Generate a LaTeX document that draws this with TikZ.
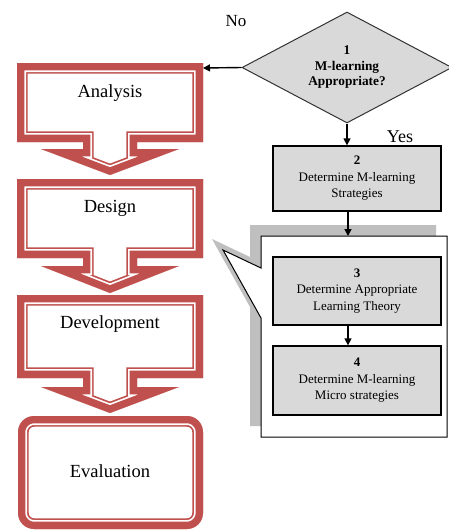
\documentclass[tikz,border=0pt]{standalone}
\usepackage{fontspec}
\setmainfont{Liberation Serif}
\usetikzlibrary{shapes.geometric,arrows.meta}
\definecolor{rd}{HTML}{C0504D}
\definecolor{gboxc}{HTML}{D9D9D9}
\definecolor{shd}{HTML}{BFBFBF}
\tikzset{
  phasepath/.style n args={4}{insert path={(17,#1) -- (203,#1) -- (203,#2) -- (137,#2) -- (137,#3) -- (179,#3) -- (110,#4) -- (41,#3) -- (83,#3) -- (83,#2) -- (17,#2) -- cycle}},
  evalpath/.style={insert path={[rounded corners=16pt] (18,416) rectangle (203,529)}},
  lbl/.style={font=\fontsize{18.5}{22}\selectfont, inner sep=0pt},
  gbox/.style={draw=black, line width=1.3pt, fill=gboxc, minimum width=168pt, inner sep=0pt, align=center, font=\fontsize{13}{16.5}\selectfont},
  arr/.style={line width=1.4pt, -{Triangle[length=7pt,width=7pt]}},
  band1/.style={draw=rd, line width=21.4pt, line join=miter},
  band2/.style={draw=white, line width=18pt, line join=miter},
  band3/.style={draw=rd, line width=14.6pt, line join=miter},
}
\newcommand\phase[4]{%
  \begin{scope}
    \clip[phasepath={#1}{#2}{#3}{#4}];
    \fill[white, phasepath={#1}{#2}{#3}{#4}];
    \path[band1, phasepath={#1}{#2}{#3}{#4}];
    \path[band2, phasepath={#1}{#2}{#3}{#4}];
    \path[band3, phasepath={#1}{#2}{#3}{#4}];
  \end{scope}}
\begin{document}
\begin{tikzpicture}[x=1pt,y=-1pt]
\useasboundingbox (0,0) rectangle (448,531);
\fill[white] (0,0) rectangle (448,531);

% left phases
\phase{63}{142}{149}{175}
\phase{179}{258}{266}{293}
\phase{295}{378}{387}{413}
\begin{scope}
  \clip[evalpath];
  \fill[white, evalpath];
  \path[band1, evalpath];
  \path[band2, evalpath];
  \path[band3, evalpath];
\end{scope}
\node[lbl] (an) at (110,93) {Analysis};
\node[lbl] (de) at (110,208) {Design};
\node[lbl] (dv) at (110,324) {Development};
\node[lbl] (ev) at (110,471) {Evaluation};
\coordinate (anR) at (203,68);

% decision
\node[shape=diamond, draw=black!80, line width=1pt, fill=gboxc, minimum width=210pt, minimum height=111pt, aspect=1.9, inner sep=0pt, align=center, font=\bfseries\fontsize{13.3}{15.5}\selectfont] (d) at (347,67.5) {1\\M-learning\\Appropriate?};
\node[font=\fontsize{17}{20}\selectfont, inner sep=0pt] (no) at (236,21) {No};
\node[font=\fontsize{18}{20}\selectfont, inner sep=0pt] (yes) at (400,137) {Yes};

\node[gbox, minimum height=65pt] (b2) at (357,178.5) {\textbf{2}\\Determine M-learning\\Strategies};

% callout with shadow
\fill[shd] (250,225) -- (436,225) -- (436,426) -- (250,426) -- (250,307) -- (212,239) -- (250,257) -- cycle;
\filldraw[fill=white, draw=black, line width=1pt] (261,236) -- (447,236) -- (447,437) -- (261,437) -- (261,318) -- (223,250) -- (261,268) -- cycle;
\coordinate (ctop) at (348,236);

\node[gbox, minimum height=68pt] (b3) at (357,291) {\textbf{3}\\Determine Appropriate\\Learning Theory};
\node[gbox, minimum height=69pt] (b4) at (357,380.5) {\textbf{4}\\Determine M-learning\\Micro strategies};

% connectors
\draw[arr] (d.west) -- (anR);
\draw[arr] (d.south) -- (d.south |- b2.north);
\draw[arr] (ctop |- b2.south) -- (ctop);
\draw[arr] (ctop |- b3.south) -- (ctop |- b4.north);
\end{tikzpicture}
\end{document}
